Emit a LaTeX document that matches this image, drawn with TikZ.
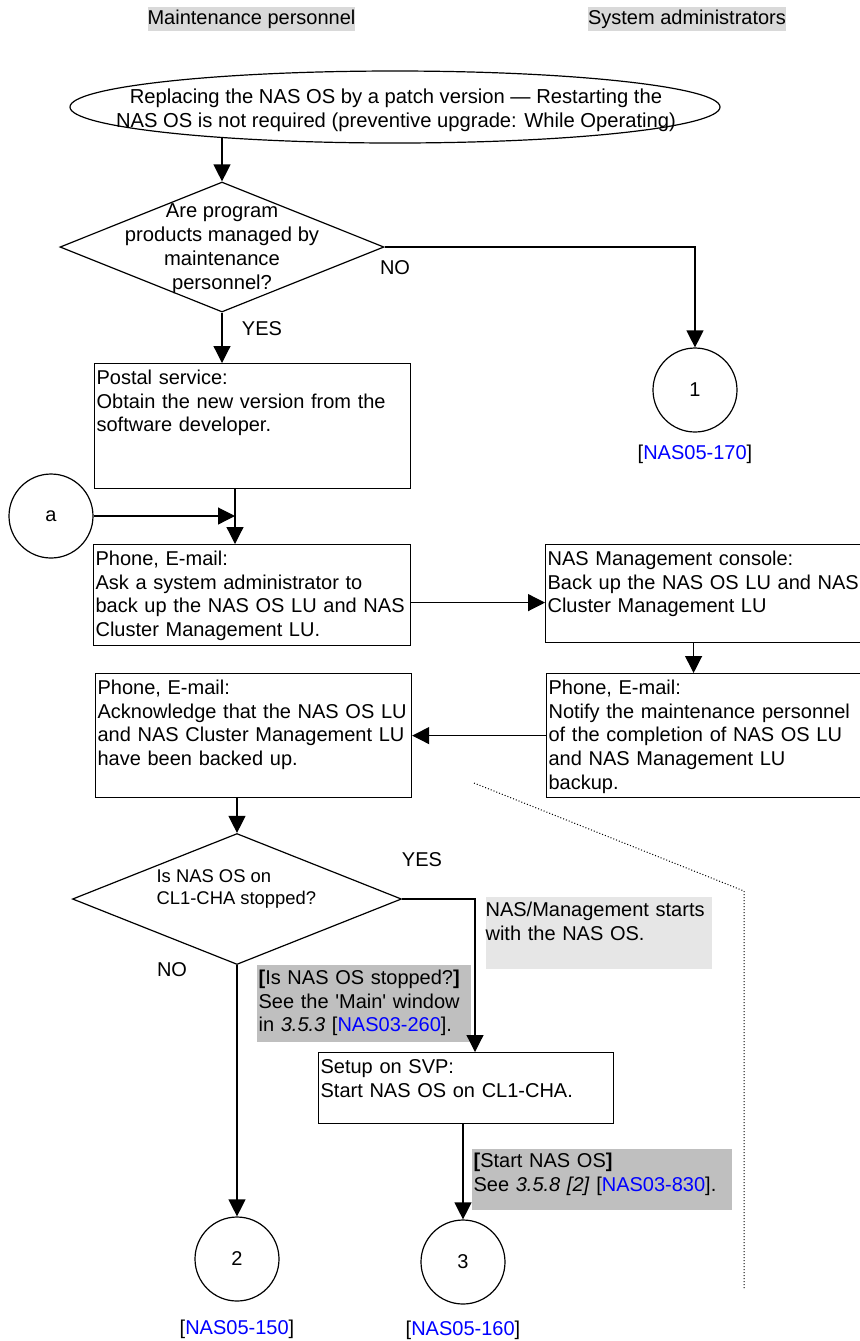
\documentclass[tikz,border=0pt]{standalone}
\usepackage{fontspec}
\setmainfont{Liberation Sans}
\usetikzlibrary{arrows.meta, positioning, shapes.geometric}
\definecolor{linkblue}{RGB}{0,0,255}
\definecolor{headgray}{RGB}{217,217,217}
\definecolor{notegray}{RGB}{191,191,191}
\definecolor{hintgray}{RGB}{230,230,230}

\begin{document}
\begin{tikzpicture}[
    x=0.5pt, y=-0.5pt,
    line width=0.6pt,
    every node/.style={font=\fontsize{10}{11.8}\selectfont, inner sep=0pt},
    stepbox/.style={draw, anchor=north west, align=left, inner xsep=1pt, inner ysep=1pt,
        text width=156pt, text height=9.5pt, text depth=#1},
    decision/.style={draw, diamond, inner sep=0pt},
    conn/.style={draw, circle, minimum size=42pt},
    lane/.style={fill=headgray, minimum height=12pt},
    note/.style={anchor=north west, align=left, text height=10pt},
    arrow/.style={-{Triangle[length=8.5pt, width=8.5pt]}}
]
\useasboundingbox (0,0) rectangle (860,1341);

% lanes
\node[lane] (maint) at (251.5,19) {Maintenance personnel};
\node[lane] (admin) at (687,19) {System administrators};

% start
\node[draw, ellipse, minimum width=325pt, minimum height=36pt] (start) at (395,107) {};
\node[align=center, font=\fontsize{10.1}{12}\selectfont] (starttext) at (396,110)
    {Replacing the NAS OS by a patch version — Restarting the\\NAS OS is not required (preventive upgrade: While Operating)};

% first decision
\node[decision, minimum width=162pt, minimum height=65pt] (prodq) at (222,247) {};
\node[align=center, font=\fontsize{10.1}{12}\selectfont] (prodqtext) at (222,249)
    {Are program\\products managed by\\maintenance\\personnel?};
\node (no1) at (395,268) {NO};
\node (yes1) at (262,329) {YES};

\node[conn] (c1) at (695,390) {1};
\node[below=6pt of c1] (link1) {[\textcolor{linkblue}{NAS05-170}]};

% maintenance side
\node[stepbox=51pt] (postal) at (94,363)
    {Postal service:\\Obtain the new version from the\\software developer.};
\node[conn] (ca) at (51,516) {a};
\coordinate (merge) at (235,516);
\node[stepbox=39pt, text width=156.5pt] (ask) at (93,544)
    {Phone, E-mail:\\Ask a system administrator to\\back up the NAS OS LU and NAS\\Cluster Management LU.};
\node[stepbox=50.5pt] (ack) at (95,673)
    {Phone, E-mail:\\Acknowledge that the NAS OS LU\\and NAS Cluster Management LU\\have been backed up.};

% administrator side
\node[stepbox=37.5pt, text width=156.5pt] (console) at (545,544)
    {NAS Management console:\\Back up the NAS OS LU and NAS\\Cluster Management LU};
\node[stepbox=50.5pt, text width=156.5pt] (notify) at (546,673)
    {Phone, E-mail:\\Notify the maintenance personnel\\of the completion of NAS OS LU\\and NAS Management LU\\backup.};

% second decision
\node[decision, minimum width=164.5pt, minimum height=65.5pt] (stopq) at (237,899) {};
\node[anchor=west, align=left, font=\fontsize{9.2}{11}\selectfont] (stopqtext) at (156,889)
    {Is NAS OS on\\CL1-CHA stopped?};
\node (yes2) at (422,860) {YES};
\node (no2) at (172,970) {NO};
\coordinate (yesbend) at (475,899);

\node[note, fill=hintgray, text width=113pt, text depth=26pt] (hint) at (485,896)
    {NAS/Management starts\\with the NAS OS.};
\node[note, fill=notegray, inner xsep=1pt, text width=105pt, text depth=28.5pt] (stopnote) at (256,964)
    {\textbf{[}Is NAS OS stopped?\textbf{]}\\See the \textquotesingle Main\textquotesingle{} window\\in \textit{3.5.3} [\textcolor{linkblue}{NAS03-260}].};

\node[stepbox=24pt, text width=145.5pt] (setup) at (318,1052)
    {Setup on SVP:\\Start NAS OS on CL1-CHA.};
\node[note, fill=notegray, inner xsep=1pt, text width=128pt, text height=9.5pt, text depth=21pt] (startnote) at (471,1148)
    {\textbf{[}Start NAS OS\textbf{]}\\See \textit{3.5.8 [2]} [\textcolor{linkblue}{NAS03-830}].};

\node[conn] (c2) at (237,1259) {2};
\node[below=9pt of c2] (link2) {[\textcolor{linkblue}{NAS05-150}]};
\node[conn] (c3) at (463,1262) {3};
\node[below=8pt of c3] (link3) {[\textcolor{linkblue}{NAS05-160}]};

% connectors
\draw[arrow] (prodq.north |- start.190) -- (prodq.north);
\draw[arrow] (prodq.east) -| (c1.north);
\draw[arrow] (prodq.south) -- (prodq.south |- postal.north);
\draw[arrow] (postal.south -| merge) -- (merge |- ask.north);
\draw[arrow] (ca.east) -- (merge);
\draw[arrow] ([yshift=-3.75pt]ask.east) -- ([yshift=-3.75pt]ask.east -| console.west);
\draw[arrow] ([xshift=-5.25pt]console.south) -- ([xshift=-5.25pt]console.south |- notify.north);
\draw[arrow] (notify.west) -- (notify.west -| ack.east);
\draw[arrow] (ack.south -| stopq.north) -- (stopq.north);
\draw[arrow] (stopq.east) -- (yesbend) -- (yesbend |- setup.north);
\draw[arrow] (stopq.south) -- (c2.north);
\draw[arrow] (setup.south -| c3.north) -- (c3.north);

% scope boundary
\draw[densely dotted, line width=0.5pt] (474,783) -- (744,891) -- (744,1290);
\end{tikzpicture}
\end{document}
